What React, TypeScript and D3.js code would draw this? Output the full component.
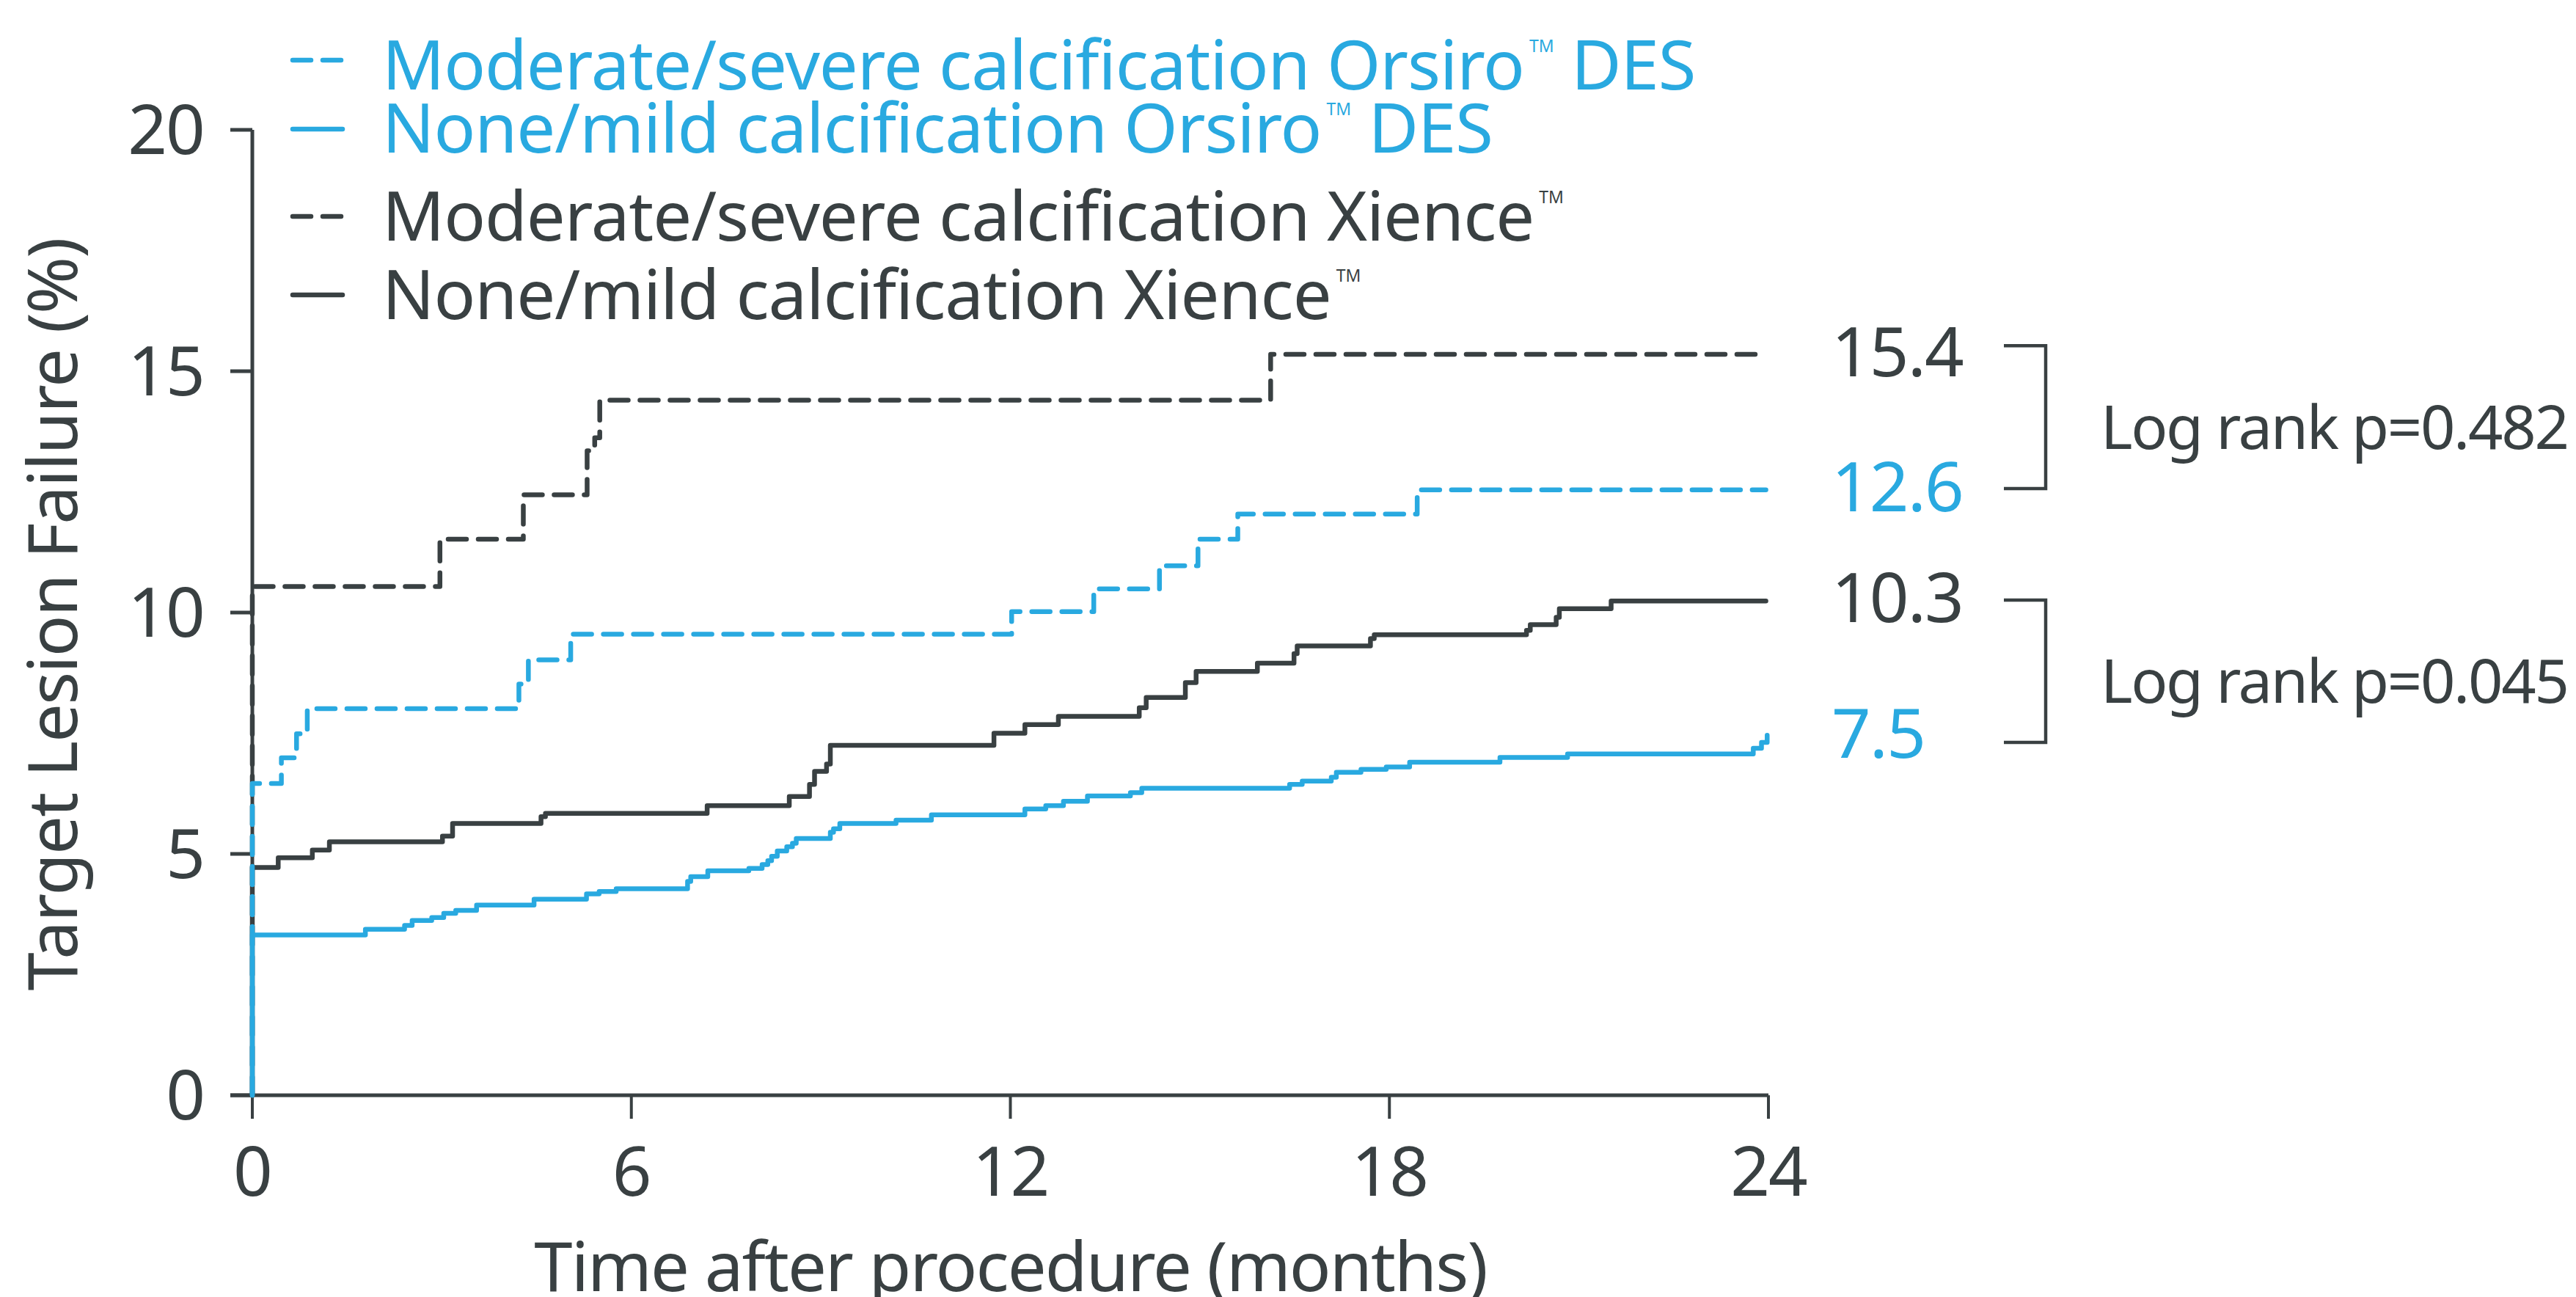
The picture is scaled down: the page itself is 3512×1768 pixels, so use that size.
import React from "react";
import * as d3 from "d3";

// ---------- data ----------
const xTicks = [0, 6, 12, 18, 24];
const yTicks = [0, 5, 10, 15, 20];

// [month, cumulative TLF %]
const modSevereXience: [number, number][] = [
  [0, 0], [0, 10.54], [2.97, 11.52], [4.29, 12.44], [5.3, 13.35], [5.42, 13.62],
  [5.5, 14.4], [16.12, 15.35], [23.95, 15.35],
];
const modSevereOrsiro: [number, number][] = [
  [0, 0], [0, 6.46], [0.46, 6.99], [0.7, 7.49], [0.87, 8.01], [4.22, 8.52],
  [4.37, 9.02], [5.04, 9.55], [12.02, 10.02], [13.32, 10.49], [14.36, 10.97],
  [14.97, 11.52], [15.6, 12.04], [18.44, 12.54], [23.96, 12.54],
];
const noneMildXience: [number, number][] = [
  [0, 0], [0, 4.72], [0.41, 4.92], [0.95, 5.08], [1.22, 5.25], [3.01, 5.37],
  [3.17, 5.63], [4.57, 5.77], [4.64, 5.84], [7.2, 6.0], [8.5, 6.19], [8.82, 6.44],
  [8.9, 6.71], [9.09, 6.86], [9.15, 7.25], [11.74, 7.5], [12.23, 7.68],
  [12.76, 7.85], [14.04, 8.03], [14.15, 8.24], [14.77, 8.55], [14.94, 8.78],
  [15.91, 8.95], [16.49, 9.15], [16.54, 9.31], [17.7, 9.46], [17.76, 9.54],
  [20.17, 9.63], [20.23, 9.75], [20.64, 9.9], [20.69, 10.08], [21.51, 10.24],
  [23.96, 10.24],
];
const noneMildOrsiro: [number, number][] = [
  [0, 0], [0, 3.32], [1.79, 3.44], [2.41, 3.52], [2.53, 3.62], [2.84, 3.68],
  [3.03, 3.77], [3.22, 3.83], [3.55, 3.94], [4.46, 4.06], [5.29, 4.17],
  [5.49, 4.22], [5.76, 4.28], [6.89, 4.43], [6.94, 4.53], [7.21, 4.65],
  [7.86, 4.7], [8.07, 4.78], [8.16, 4.86], [8.22, 4.95], [8.31, 5.06],
  [8.46, 5.15], [8.55, 5.22], [8.61, 5.32], [9.15, 5.45], [9.2, 5.52],
  [9.3, 5.63], [10.19, 5.7], [10.75, 5.81], [12.23, 5.93], [12.56, 6.0],
  [12.84, 6.09], [13.22, 6.2], [13.9, 6.27], [14.08, 6.36], [16.42, 6.44],
  [16.62, 6.51], [17.08, 6.59], [17.16, 6.69], [17.55, 6.75], [17.95, 6.8],
  [18.32, 6.9], [19.75, 7.0], [20.82, 7.07], [23.76, 7.19], [23.89, 7.31],
  [23.98, 7.46],
];

// legend: [text before TM, text after TM]
const legendParts: [string, string][] = [
  ["Moderate/severe calcification Orsiro", " DES"],
  ["None/mild calcification Orsiro", " DES"],
  ["Moderate/severe calcification Xience", ""],
  ["None/mild calcification Xience", ""],
];
const endLabels = ["15.4", "12.6", "10.3", "7.5"];
const endValues = [15.4, 12.6, 10.3, 7.5];
const bracketRanges: [number, number][] = [[15.53, 12.57], [10.26, 7.31]];
const logRankLabels = ["Log rank p=0.482", "Log rank p=0.045"];

// ---------- styles ----------
const DARK = "#394042";
const BLUE = "#29a9e0";
const FONT = "'Noto Sans', 'Open Sans', sans-serif";
const LS = -1.9;
const LS_LEGEND = -1.05;

export default function App() {
  const W = 3512;
  const H = 1768;
  const x = d3.scaleLinear().domain([0, 24]).range([344, 2411]);
  const y = d3.scaleLinear().domain([0, 20]).range([1493, 177]);

  const line = d3
    .line<[number, number]>()
    .x((d) => x(d[0]))
    .y((d) => y(d[1]))
    .curve(d3.curveStepAfter);

  const series = [
    { data: modSevereXience, color: DARK, dashed: true },
    { data: noneMildXience, color: DARK, dashed: false },
    { data: modSevereOrsiro, color: BLUE, dashed: true },
    { data: noneMildOrsiro, color: BLUE, dashed: false },
  ];

  const legend = [
    { parts: legendParts[0], color: BLUE, dashed: true, base: 122, sym: 82 },
    { parts: legendParts[1], color: BLUE, dashed: false, base: 208, sym: 176 },
    { parts: legendParts[2], color: DARK, dashed: true, base: 328, sym: 295 },
    { parts: legendParts[3], color: DARK, dashed: false, base: 435, sym: 402 },
  ];
  const endColors = [DARK, BLUE, DARK, BLUE];

  return (
    <svg
      width={W}
      height={H}
      viewBox={`0 0 ${W} ${H}`}
      style={{ position: "absolute", left: 0, top: 0, background: "#fff" }}
      fontFamily={FONT}
    >
      <rect x={0} y={0} width={W} height={H} fill="#fff" />

      {/* axes */}
      <line x1={x(0)} x2={x(0)} y1={y(20)} y2={y(0)} stroke={DARK} strokeWidth={5} />
      <line x1={x(0) - 30} x2={x(24)} y1={y(0)} y2={y(0)} stroke={DARK} strokeWidth={5} />
      {yTicks.map((t) => (
        <g key={"yt" + t}>
          <line x1={x(0) - 30} x2={x(0)} y1={y(t)} y2={y(t)} stroke={DARK} strokeWidth={5} />
          <text x={278} y={y(t) + 33} textAnchor="end" fontSize={94} fill={DARK} letterSpacing={LS}>
            {t}
          </text>
        </g>
      ))}
      {xTicks.map((t) => (
        <g key={"xt" + t}>
          <line x1={x(t)} x2={x(t)} y1={y(0)} y2={y(0) + 32} stroke={DARK} strokeWidth={4} />
          <text x={x(t)} y={1630} textAnchor="middle" fontSize={94} fill={DARK} letterSpacing={LS}>
            {t}
          </text>
        </g>
      ))}
      <text
        x={(x(0) + x(24)) / 2}
        y={1760}
        textAnchor="middle"
        fontSize={94}
        fill={DARK}
        letterSpacing={LS}
      >
        Time after procedure (months)
      </text>
      <text
        transform={`translate(105, 838) rotate(-90)`}
        textAnchor="middle"
        fontSize={94}
        fill={DARK}
        letterSpacing={LS}
      >
        Target Lesion Failure (%)
      </text>

      {/* curves */}
      {series.map((s, i) => (
        <path
          key={"s" + i}
          d={line(s.data) || ""}
          fill="none"
          stroke={s.color}
          strokeWidth={6.5}
          strokeLinecap="round"
          strokeLinejoin="round"
          strokeDasharray={s.dashed ? "25 16" : undefined}
        />
      ))}

      {/* legend */}
      {legend.map((l, i) => (
        <g key={"lg" + i}>
          <line
            x1={399}
            x2={467}
            y1={l.sym}
            y2={l.sym}
            stroke={l.color}
            strokeWidth={6.5}
            strokeLinecap="round"
            strokeDasharray={l.dashed ? "25 16" : undefined}
          />
          <text x={521} y={l.base} fontSize={94} fill={l.color} letterSpacing={LS_LEGEND}>
            {l.parts[0]}
            <tspan fontSize={23} dx={7} dy={-51} letterSpacing={0}>
              TM
            </tspan>
            {l.parts[1] ? <tspan dy={51}>{l.parts[1]}</tspan> : null}
          </text>
        </g>
      ))}

      {/* end labels */}
      {endLabels.map((lab, i) => (
        <text
          key={"el" + i}
          x={2497}
          y={y(endValues[i]) + 33}
          fontSize={94}
          fill={endColors[i]}
          letterSpacing={LS}
        >
          {lab}
        </text>
      ))}

      {/* brackets */}
      {bracketRanges.map((r, i) => (
        <path
          key={"br" + i}
          d={`M2732,${y(r[0])} H2789 V${y(r[1])} H2732`}
          fill="none"
          stroke={DARK}
          strokeWidth={4.5}
        />
      ))}
      {logRankLabels.map((lab, i) => (
        <text
          key={"lr" + i}
          x={2864}
          y={(y(bracketRanges[i][0]) + y(bracketRanges[i][1])) / 2 + 43}
          fontSize={83}
          fill={DARK}
          letterSpacing={-2.3}
        >
          {lab}
        </text>
      ))}
    </svg>
  );
}
